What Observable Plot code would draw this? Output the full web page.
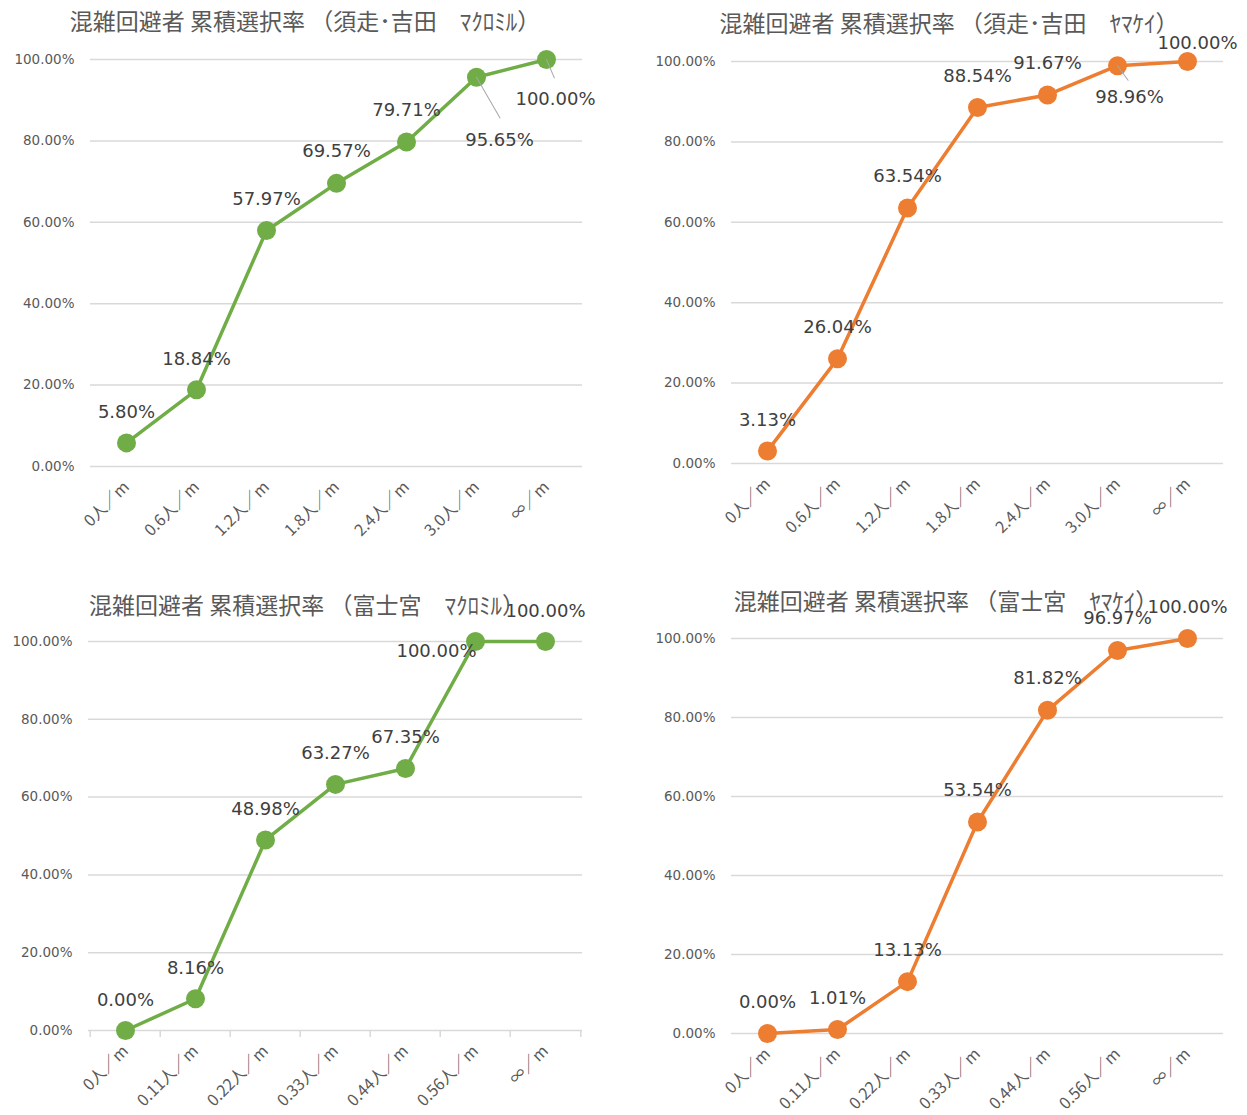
<!DOCTYPE html>
<html><head><meta charset="utf-8">
<script src="https://cdn.jsdelivr.net/npm/d3@7"></script>
<script src="https://cdn.jsdelivr.net/npm/@observablehq/plot@0.6"></script>
<style>
body{margin:0;background:#fff;}
#root{position:relative;width:1247px;height:1115px;overflow:hidden;font-family:"Noto Sans CJK JP",sans-serif;}
.panel{position:absolute;}
.panel svg{overflow:visible;}
.panel g[aria-label="x-axis tick label"]{font-family:"Noto Sans CJK JP",sans-serif !important;font-size:16px !important;fill:#595959;}
.panel g[aria-label="y-axis tick label"]{font-family:"DejaVu Sans",sans-serif !important;font-size:13.5px !important;fill:#595959;}
.title{position:absolute;white-space:nowrap;font-size:23px;color:#595959;transform:translate(-50%,-50%);font-family:"Noto Sans CJK JP",sans-serif;}
</style></head><body><div id="root"></div>
<script>
// ---- data ----
const catsA = ["0人／m","0.6人／m","1.2人／m","1.8人／m","2.4人／m","3.0人／m","∞／m"];
const catsB = ["0人／m","0.11人／m","0.22人／m","0.33人／m","0.44人／m","0.56人／m","∞／m"];
const subashiriMacromill = [5.80, 18.84, 57.97, 69.57, 79.71, 95.65, 100.00];
const subashiriYamakei   = [3.13, 26.04, 63.54, 88.54, 91.67, 98.96, 100.00];
const fujinomiyaMacromill = [0.00, 8.16, 48.98, 63.27, 67.35, 100.00, 100.00];
const fujinomiyaYamakei   = [0.00, 1.01, 13.13, 53.54, 81.82, 96.97, 100.00];
const yTicks = [0, 20, 40, 60, 80, 100];
const titles = [
  "混雑回避者 累積選択率 （須走･吉田　ﾏｸﾛﾐﾙ）",
  "混雑回避者 累積選択率 （須走･吉田　ﾔﾏｹｲ）",
  "混雑回避者 累積選択率 （富士宮　ﾏｸﾛﾐﾙ）",
  "混雑回避者 累積選択率 （富士宮　ﾔﾏｹｲ）"
];

// ---- layout / style ----
const GREEN = "#70AD47", ORANGE = "#ED7D31";
const panels = [
  {cats: catsA, values: subashiriMacromill, title: titles[0], color: GREEN,
   left: 0, top: 0, w: 620, h: 560, mL: 90, mR: 38, mT: 59, mB: 94, tx: 305, ty: 20,
   offs: [[0,-31],[0,-31],[0,-31],[0,-32],[0,-32],[23,63],[9,40]],
   leaders: [{i:5, len:47, rot:150}, {i:6, len:20, rot:157}], bounds: false},
  {cats: catsA, values: subashiriYamakei, title: titles[1], color: ORANGE,
   left: 620, top: 0, w: 627, h: 560, mL: 111, mR: 24, mT: 61, mB: 97, tx: 949, ty: 22,
   offs: [[0,-31],[0,-32],[0,-32],[0,-31],[0,-32],[12,32],[10,-18]],
   leaders: [{i:5, len:18, rot:144}], bounds: false},
  {cats: catsB, values: fujinomiyaMacromill, title: titles[2], color: GREEN,
   left: 0, top: 570, w: 620, h: 545, mL: 88, mR: 38, mT: 71, mB: 85, tx: 307, ty: 604,
   offs: [[0,-30],[0,-31],[0,-31],[0,-31],[0,-31],[-39,10],[0,-30]],
   leaders: [], bounds: true},
  {cats: catsB, values: fujinomiyaYamakei, title: titles[3], color: ORANGE,
   left: 620, top: 570, w: 627, h: 545, mL: 111, mR: 24, mT: 68, mB: 82, tx: 946, ty: 600,
   offs: [[0,-31],[0,-31],[0,-31],[0,-32],[0,-32],[0,-32],[0,-31]],
   leaders: [], bounds: false}
];

const lineShape = {draw(context, l) { context.moveTo(0, 0); context.lineTo(0, -l); }};
const root = document.getElementById("root");

for (const p of panels) {
  const data = p.cats.map((c, i) => ({cat: c, value: p.values[i], i}));
  const bw = (p.w - p.mL - p.mR) / p.cats.length;
  const marks = [
    Plot.gridY(yTicks, {stroke: "#d9d9d9", strokeOpacity: 1, strokeWidth: 1.5}),
    Plot.axisY(yTicks, {tickFormat: d => d.toFixed(2) + "%", tickSize: 0, tickPadding: 16, label: null}),
    Plot.axisX(p.cats, {tickRotate: -45, tickSize: 0, tickPadding: 18, label: null})
  ];
  if (p.bounds) {
    marks.push(Plot.vector(p.cats, {x: d => d, y: d => 0, dx: -bw / 2, length: 6, rotate: 180,
      anchor: "start", shape: lineShape, stroke: "#d9d9d9", strokeWidth: 1.5}));
    marks.push(Plot.vector([p.cats[p.cats.length - 1]], {x: d => d, y: d => 0, dx: bw / 2, length: 6,
      rotate: 180, anchor: "start", shape: lineShape, stroke: "#d9d9d9", strokeWidth: 1.5}));
  }
  marks.push(Plot.line(data, {x: "cat", y: "value", stroke: p.color, strokeWidth: 3.5}));
  marks.push(Plot.dot(data, {x: "cat", y: "value", r: 9.5, fill: p.color, stroke: "none"}));
  for (const L of p.leaders) {
    marks.push(Plot.vector([data[L.i]], {x: "cat", y: "value", length: L.len, rotate: L.rot,
      anchor: "start", shape: lineShape, stroke: "#a6a6a6", strokeWidth: 1}));
  }
  data.forEach((d, i) => {
    marks.push(Plot.text([d], {x: "cat", y: "value", text: d => d.value.toFixed(2) + "%",
      dx: p.offs[i][0], dy: p.offs[i][1], fontSize: 18, fontFamily: "DejaVu Sans", fill: "#404040"}));
  });
  const chart = Plot.plot({
    width: p.w, height: p.h,
    marginLeft: p.mL, marginRight: p.mR, marginTop: p.mT, marginBottom: p.mB,
    x: {type: "band", domain: p.cats, padding: 0, label: null},
    y: {domain: [0, 100], label: null},
    style: {background: "transparent", color: "#595959", overflow: "visible"},
    marks
  });
  const div = document.createElement("div");
  div.className = "panel";
  div.style.left = p.left + "px"; div.style.top = p.top + "px";
  div.style.width = p.w + "px"; div.style.height = p.h + "px";
  div.appendChild(chart);
  root.appendChild(div);
}
for (const p of panels) {
  const t = document.createElement("div");
  t.className = "title";
  t.textContent = p.title;
  t.style.left = p.tx + "px"; t.style.top = p.ty + "px";
  root.appendChild(t);
}
</script></body></html>
